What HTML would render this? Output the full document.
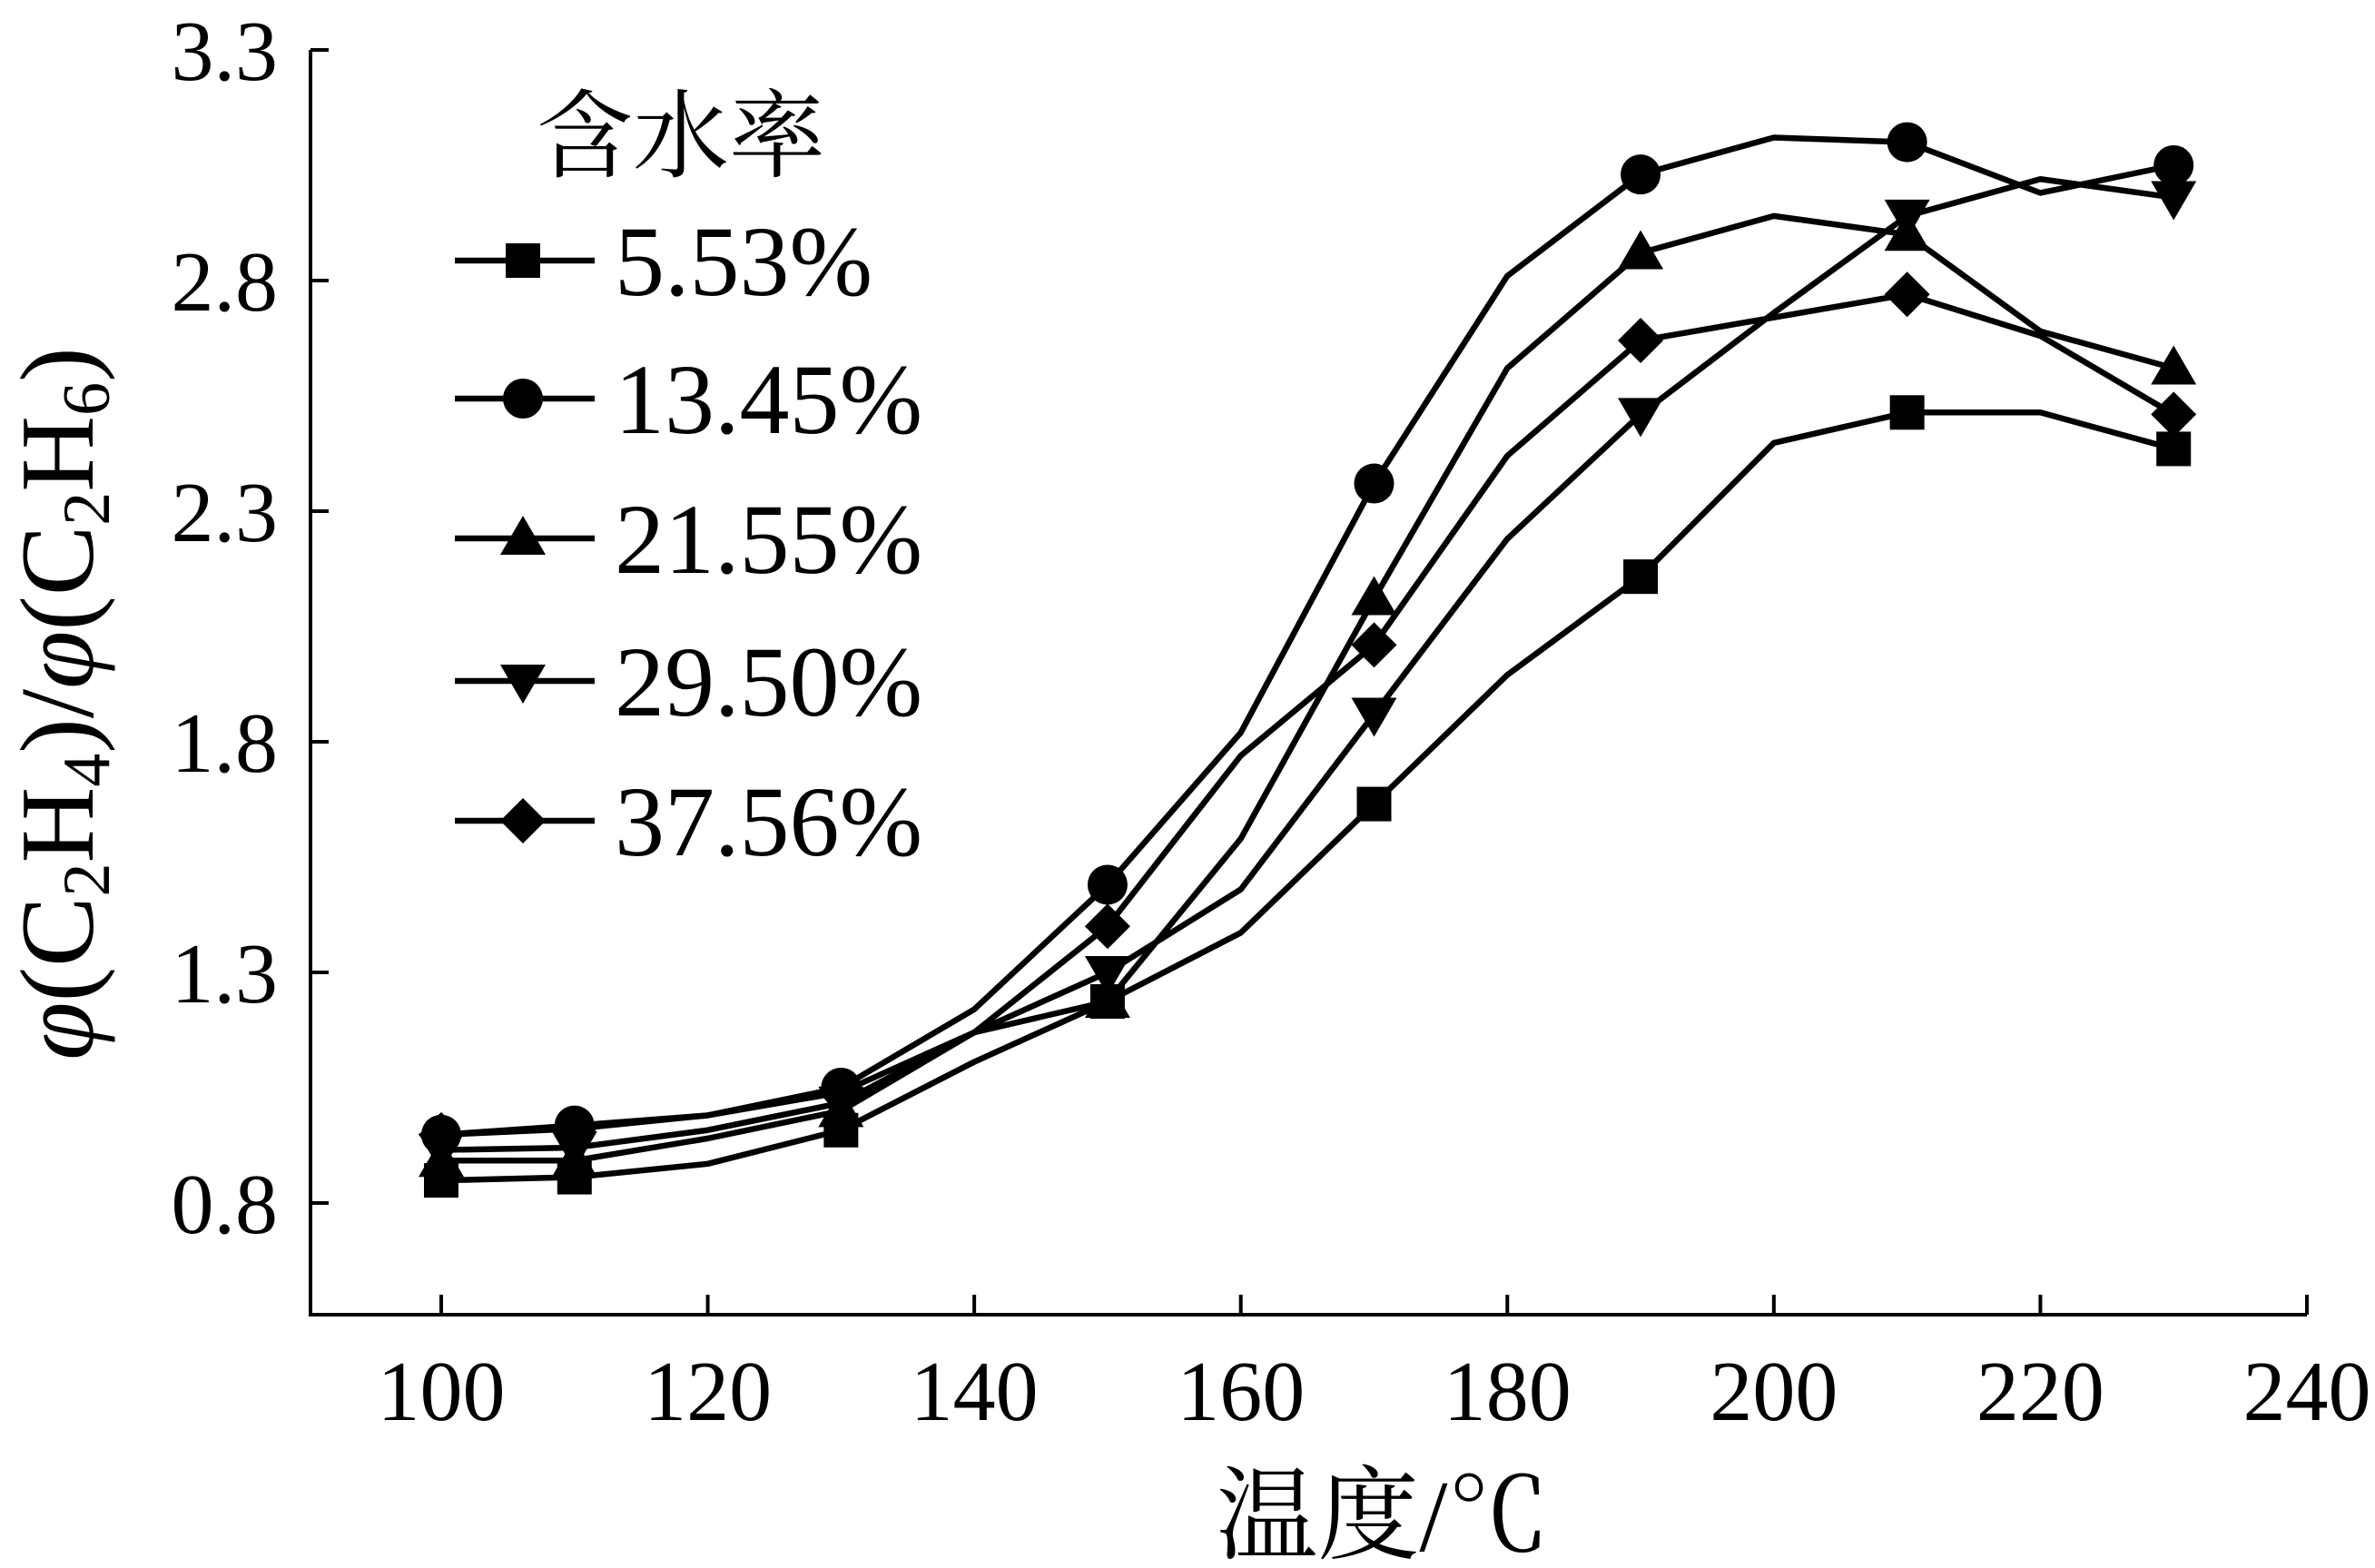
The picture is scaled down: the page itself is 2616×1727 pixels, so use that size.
<!DOCTYPE html>
<html><head><meta charset="utf-8"><style>
html,body{margin:0;padding:0;background:#fff;}
svg{display:block;font-family:"Liberation Serif","Noto Serif CJK SC",serif;}
</style></head><body>
<svg id="chart" width="2616" height="1727" viewBox="0 0 2616 1727" xmlns="http://www.w3.org/2000/svg">
<g id="axes"></g>
<g id="series"></g>
<g id="legend"></g>
</svg>
<script>
const temps = [100,110,120,130,140,150,160,170,180,190,200,210,220,230];
const markerFlags = [1,1,0,1,0,1,0,1,0,1,0,1,0,1];
const seriesNames = ["5.53%","13.45%","21.55%","29.50%","37.56%"];
const seriesMarkers = ["square","circle","triUp","triDown","diamond"];
const s553 = [0.849,0.856,0.885,0.958,1.106,1.237,1.386,1.665,1.945,2.158,2.448,2.514,2.514,2.435];
const s1345 = [0.948,0.968,0.99,1.05,1.22,1.49,1.82,2.36,2.81,3.03,3.11,3.10,2.99,3.05];
const s2155 = [0.892,0.892,0.94,1.0,1.17,1.237,1.59,2.11,2.61,2.86,2.94,2.90,2.69,2.61];
const s2950 = [0.915,0.92,0.958,1.017,1.17,1.30,1.48,1.86,2.24,2.51,2.73,2.94,3.02,2.98];
const s3756 = [0.948,0.961,0.99,1.04,1.17,1.40,1.77,2.01,2.42,2.67,2.72,2.77,2.68,2.51];
const yTicks = [0.8,1.3,1.8,2.3,2.8,3.3];
const xTicks = [100,120,140,160,180,200,220,240];
const allSeries = [s553,s1345,s2155,s2950,s3756];

const NS="http://www.w3.org/2000/svg";
const X0=342, XR=2541, YT=55, YB=1448;
function xs(v){return 486+(v-100)*(2541-486)/140;}
function ys(v){return 1325-(v-0.8)*(1325-55)/2.5;}
function mk(tag,attrs,parent){const e=document.createElementNS(NS,tag);for(const k in attrs)e.setAttribute(k,attrs[k]);parent.appendChild(e);return e;}
const axes=document.getElementById('axes');
let a=mk('path',{d:`M${X0},${YT} V${YB} H${XR}`,fill:'none',stroke:'#000','stroke-width':4},axes);


yTicks.forEach(v=>{
  const y=ys(v);
  const t=mk('line',{x1:X0,x2:X0+20,y1:y,y2:y,stroke:'#000','stroke-width':4},axes);
  
  
  const l=mk('text',{x:306,y:y+33,'text-anchor':'end','font-size':94},axes);
  l.textContent=v.toFixed(1);
  
  
});
xTicks.forEach(v=>{
  const x=xs(v);
  const t=mk('line',{x1:x,x2:x,y1:YB,y2:YB-22,stroke:'#000','stroke-width':4},axes);
  
  
  const l=mk('text',{x:x,y:1564,'text-anchor':'middle','font-size':94},axes);
  l.textContent=v;
  
  
});
const xt=mk('text',{x:1523,y:1708,'text-anchor':'middle','font-size':112},axes);
xt.textContent='温度/℃';


const yt=mk('text',{x:0,y:0,'text-anchor':'middle','font-size':116,transform:'translate(102,775) rotate(-90)'},axes);
yt.innerHTML='<tspan font-style="italic">φ</tspan>(C<tspan font-size="74" dy="18">2</tspan><tspan dy="-18">H</tspan><tspan font-size="74" dy="18">4</tspan><tspan dy="-18">)/</tspan><tspan font-style="italic">φ</tspan>(C<tspan font-size="74" dy="18">2</tspan><tspan dy="-18">H</tspan><tspan font-size="74" dy="18">6</tspan><tspan dy="-18">)</tspan>';



function marker(type,x,y,parent){
  let e;
  if(type==='square') e=mk('rect',{x:x-19,y:y-19,width:38,height:38,fill:'#000'},parent);
  else if(type==='circle') e=mk('circle',{cx:x,cy:y,r:22,fill:'#000'},parent);
  else if(type==='triUp') e=mk('polygon',{points:`${x},${y-25} ${x+25},${y+18} ${x-25},${y+18}`,fill:'#000'},parent);
  else if(type==='triDown') e=mk('polygon',{points:`${x},${y+25} ${x+25},${y-18} ${x-25},${y-18}`,fill:'#000'},parent);
  else e=mk('polygon',{points:`${x},${y-25} ${x+25},${y} ${x},${y+25} ${x-25},${y}`,fill:'#000'},parent);
  return e;
}
const sg=document.getElementById('series');
allSeries.forEach((vals,si)=>{
  const g=mk('g',{},sg);
  
  
  const p=mk('polyline',{points:vals.map((v,i)=>xs(temps[i])+','+ys(v)).join(' '),fill:'none',stroke:'#000','stroke-width':6.5,'stroke-linejoin':'round'},g);
  
  
  vals.forEach((v,i)=>{
    if(!markerFlags[i])return;
    const m=marker(seriesMarkers[si],xs(temps[i]),ys(v),g);
    
    
  });
});
const lg=document.getElementById('legend');
const lt=mk('text',{x:591,y:187,'font-size':106},lg);
lt.textContent='含水率';


const rows=[287,439,593,750,904];
seriesNames.forEach((n,i)=>{
  const g=mk('g',{},lg);
  
  
  mk('line',{x1:501,x2:655,y1:rows[i],y2:rows[i],stroke:'#000','stroke-width':6.5},g);
  marker(seriesMarkers[i],576,rows[i],g);
  const t=mk('text',{x:677,y:rows[i]+38,'font-size':110},g);
  t.textContent=n;
  
  
});
</script>
</body></html>
